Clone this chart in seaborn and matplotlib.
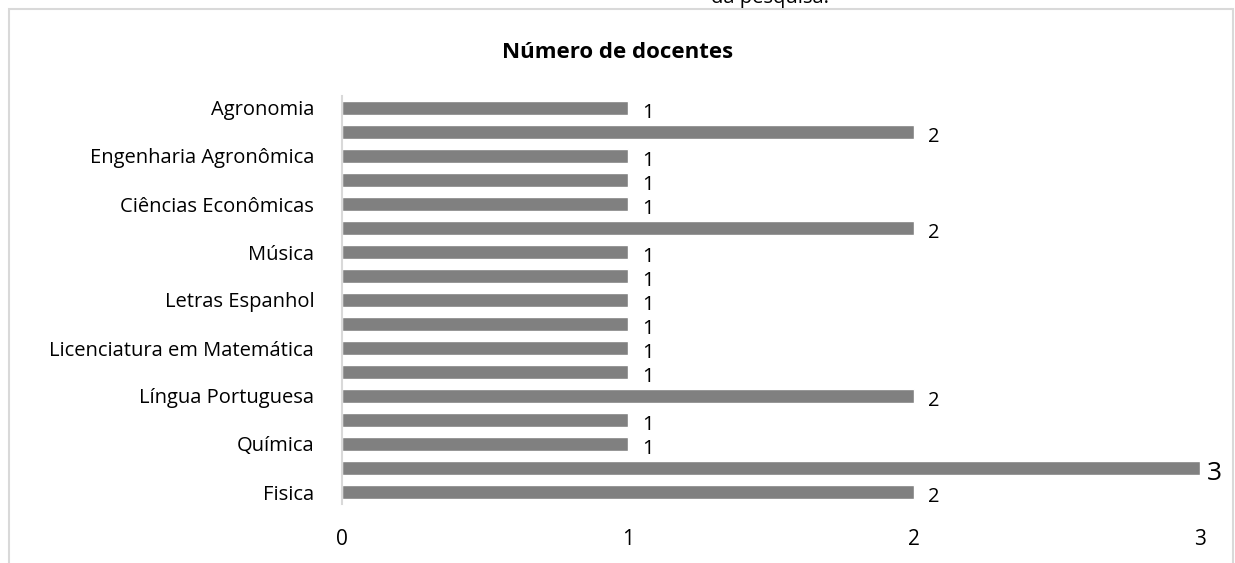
import matplotlib
matplotlib.use("Agg")
import matplotlib.pyplot as plt
import seaborn as sns
import pandas as pd
from matplotlib.patches import Rectangle

# categories top -> bottom; only every other one has a visible label in the original
cursos = ["Agronomia", "", "Engenharia Agronômica", "", "Ciências Econômicas", "",
          "Música", "", "Letras Espanhol", "", "Licenciatura em Matemática", "",
          "Língua Portuguesa", "", "Química", "", "Fisica"]
docentes = [1, 2, 1, 1, 1, 2, 1, 1, 1, 1, 1, 1, 2, 1, 1, 3, 2]
xticks = [0, 1, 2, 3]

df = pd.DataFrame({"id": [f"c{i}" for i in range(len(cursos))],
                   "curso": cursos, "docentes": docentes})

sns.set_style("white")
plt.rcParams["font.family"] = ["Open Sans", "DejaVu Sans"]
plt.rcParams["text.color"] = "black"
plt.rcParams["xtick.color"] = "black"
plt.rcParams["ytick.color"] = "black"

fig = plt.figure(figsize=(12.35, 5.63), dpi=100)
ax = fig.add_axes([342 / 1235, 1 - 504 / 563, (1200 - 342) / 1235, 408 / 563])

sns.barplot(data=df, y="id", x="docentes", orient="h", color="#808080",
            saturation=1, width=0.58, ax=ax)

ax.set_xlim(0, 3)
ax.set_ylim(len(cursos) - 0.5, -0.5)
ax.set_xticks(xticks)
ax.set_xticklabels([str(t) for t in xticks], fontsize=15)
ax.set_yticks(range(len(cursos)))
ax.set_yticklabels(cursos, fontsize=14.5)
ax.tick_params(axis="both", length=0)
ax.tick_params(axis="x", pad=18)
ax.tick_params(axis="y", pad=20)
ax.set_xlabel("")
ax.set_ylabel("")
for s in ["top", "right", "bottom"]:
    ax.spines[s].set_visible(False)
ax.spines["left"].set_color("#d9d9d9")
ax.spines["left"].set_linewidth(1.5)

# data labels
for i, v in enumerate(docentes):
    size = 19 if v == 3 else 14.5
    ax.text(v + 0.05 if v < 3 else v + 0.025, i + 0.22, str(v),
            ha="left", va="center", fontsize=size, clip_on=False)

fig.text(0.5, 1 - 52 / 563, "Número de docentes", ha="center", va="center",
         fontsize=16, fontweight="bold")
fig.text(770 / 1235, 1 + 2 / 563, "da pesquisa.", ha="center", va="center",
         fontsize=14.5)

# outer chart frame
fig.patches.append(Rectangle((9 / 1235, -0.05), (1233 - 9) / 1235, 1.05 - 9 / 563,
                             transform=fig.transFigure, fill=False,
                             edgecolor="#d9d9d9", linewidth=1.5))

fig.savefig("out.png", dpi=100)
